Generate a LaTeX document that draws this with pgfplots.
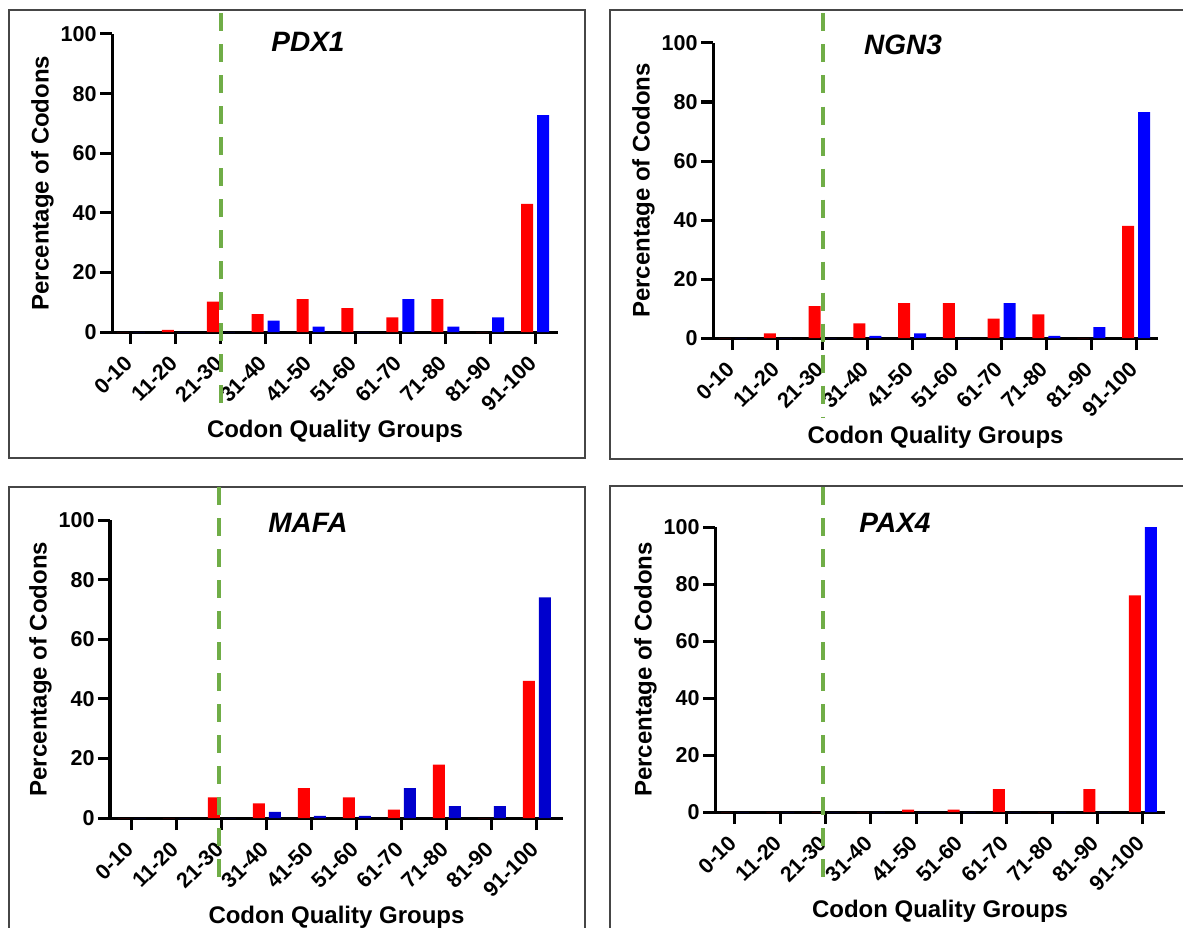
\documentclass[border=0pt]{standalone}
\usepackage{fontspec}
\setmainfont{Liberation Sans}
\usepackage{pgfplots}
\pgfplotsset{compat=1.18}
\definecolor{gline}{RGB}{112,173,71}
\definecolor{bred}{RGB}{255,0,0}
\definecolor{bblue}{RGB}{0,0,255}
\definecolor{bblueb}{RGB}{0,0,205}
\definecolor{boxc}{RGB}{70,70,70}
\tikzset{gdash/.style={gline, line width=4pt, dash pattern=on 18pt off 13pt}}
\pgfplotsset{
  codon/.style={
    scale only axis, anchor=south west,
    axis x line*=bottom, axis y line*=left,
    axis line style={-, line width=3pt, black},
    ymin=0, ymax=100, ytick={0,20,...,100},
    xtick={0,...,9},
    xticklabels={0-10,11-20,21-30,31-40,41-50,51-60,61-70,71-80,81-90,91-100},
    tick align=outside, major tick length=12pt,
    tick style={black, line width=3pt},
    ybar, bar width=12pt,
    /pgf/number format/assume math mode=true,
    ticklabel style={font=\fontsize{21.5}{25}\selectfont\bfseries},
    xticklabel shift=13pt,
    xticklabel style={rotate=45, anchor=east},
    label style={font=\fontsize{24}{28}\selectfont\bfseries},
    xlabel={Codon Quality Groups}, ylabel={Percentage of Codons},
    clip=false,
  },
  redbar/.style={fill=bred, draw=none, bar shift=-8pt},
  bluebar/.style={fill=bblue, draw=none, bar shift=8pt},
}
\begin{document}
\begin{tikzpicture}[x=1pt,y=-1pt]
\useasboundingbox (0,0) rectangle (1183,928);
\begin{scope}
\clip (0,0) rectangle (1183,928);
\draw[boxc, line width=1.5pt] (9,10) rectangle (585,458);
\draw[boxc, line width=1.5pt] (610,10) rectangle (1195,459);
\draw[boxc, line width=1.5pt] (9,487) rectangle (585,940);
\draw[boxc, line width=1.5pt] (610,486) rectangle (1195,940);
\end{scope}

% PDX1
\begin{axis}[codon, at={(112pt,-332pt)}, width=446pt, height=298pt,
  xmin=-0.423, xmax=9.51]
\addplot[redbar] coordinates {(0,0) (1,0.7) (2,10.2) (3,6) (4,11) (5,8) (6,4.9) (7,11) (8,0) (9,43)};
\addplot[bluebar] coordinates {(0,0) (1,0) (2,0) (3,3.8) (4,1.8) (5,0) (6,11) (7,1.8) (8,4.9) (9,72.8)};
\draw[gdash] (axis cs:2,107) -- (axis cs:2,-27);
\end{axis}

% NGN3
\begin{axis}[codon, at={(713pt,-338pt)}, width=445pt, height=295pt,
  xmin=-0.446, xmax=9.49]
\addplot[redbar] coordinates {(0,0) (1,1.6) (2,10.8) (3,5) (4,11.8) (5,11.8) (6,6.6) (7,8) (8,0) (9,38)};
\addplot[bluebar] coordinates {(0,0) (1,0) (2,0) (3,0.7) (4,1.6) (5,0) (6,11.8) (7,0.7) (8,3.7) (9,76.6)};
\draw[gdash] (axis cs:2,110) -- (axis cs:2,-27);
\end{axis}

% MAFA
\begin{axis}[codon, at={(110pt,-818pt)}, width=453pt, height=298pt,
  xmin=-0.489, xmax=9.58]
\addplot[redbar] coordinates {(0,0) (1,0) (2,6.9) (3,4.9) (4,10) (5,6.9) (6,2.8) (7,17.9) (8,0) (9,46)};
\addplot[bluebar, fill=bblueb] coordinates {(0,0) (1,0) (2,0) (3,2.1) (4,0.7) (5,0.7) (6,10) (7,4) (8,4) (9,74)};
\draw[gdash] (axis cs:1.93,111) -- (axis cs:1.93,-24);
\end{axis}

% PAX4
\begin{axis}[codon, at={(715pt,-812pt)}, width=450pt, height=285pt,
  xmin=-0.441, xmax=9.49]
\addplot[redbar] coordinates {(0,0) (1,0) (2,0) (3,0) (4,0.8) (5,0.8) (6,8) (7,0) (8,8) (9,76)};
\addplot[bluebar] coordinates {(0,0) (1,0) (2,0) (3,0) (4,0) (5,0) (6,0) (7,0) (8,0) (9,100)};
\draw[gdash] (axis cs:1.95,114) -- (axis cs:1.95,-27);
\end{axis}

\node[font=\fontsize{28}{32}\selectfont\bfseries\itshape] at (308,42) {PDX1};
\node[font=\fontsize{28}{32}\selectfont\bfseries\itshape] at (903,45) {NGN3};
\node[font=\fontsize{28}{32}\selectfont\bfseries\itshape] at (308,523) {MAFA};
\node[font=\fontsize{28}{32}\selectfont\bfseries\itshape] at (895,523) {PAX4};
\end{tikzpicture}
\end{document}
